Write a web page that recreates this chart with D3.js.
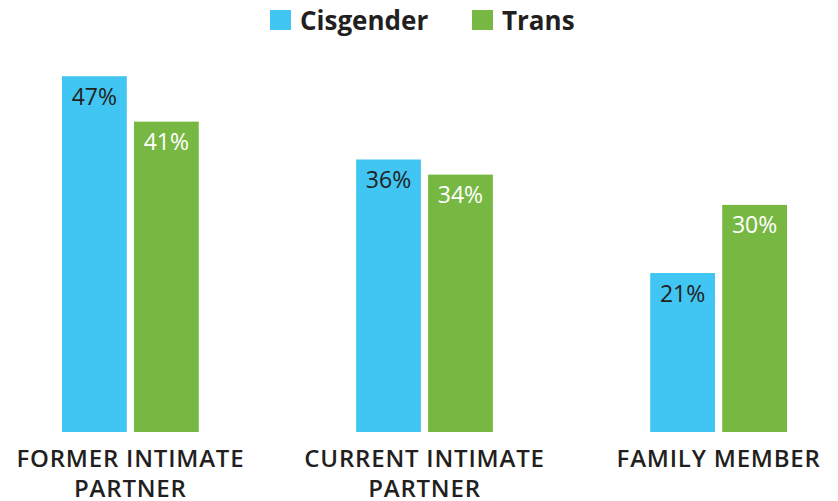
<!DOCTYPE html>
<html>
<head>
<meta charset="utf-8">
<script src="https://cdn.jsdelivr.net/npm/d3@7"></script>
<style>
  html, body { margin: 0; padding: 0; background: #fff; }
  text { font-family: "Open Sans", sans-serif; }
</style>
</head>
<body>
<svg id="chart" width="838" height="501"></svg>
<script>
const categories = ["FORMER INTIMATE PARTNER", "CURRENT INTIMATE PARTNER", "FAMILY MEMBER"];
const categoryLines = [["FORMER INTIMATE", "PARTNER"], ["CURRENT INTIMATE", "PARTNER"], ["FAMILY MEMBER"]];
const seriesNames = ["Cisgender", "Trans"];
const cisgender = [47, 36, 21];
const trans = [41, 34, 30];
const colors = ["#41C5F2", "#77B843"];
const labelColors = ["#231F20", "#FFFFFF"];

const svg = d3.select("#chart");
const baseline = 432;
const x = d3.scaleBand().domain(categories).range([62, 787]).paddingInner(0.535).paddingOuter(0);
const xs = d3.scaleBand().domain(seriesNames).range([0, x.bandwidth()]).paddingInner(0.1);
const y = d3.scaleLinear().domain([0, 50]).range([baseline, baseline - 7.57 * 50]);

const data = categories.map((c, i) => ({cat: c, vals: [cisgender[i], trans[i]]}));

const groups = svg.selectAll("g.grp").data(data).join("g")
  .attr("class", "grp")
  .attr("transform", d => `translate(${x(d.cat)},0)`);

groups.selectAll("rect").data(d => d.vals.map((v, j) => ({s: seriesNames[j], v, j})))
  .join("rect")
  .attr("x", d => xs(d.s))
  .attr("y", d => y(d.v))
  .attr("width", xs.bandwidth())
  .attr("height", d => baseline - y(d.v))
  .attr("fill", d => colors[d.j]);

groups.selectAll("text.val").data(d => d.vals.map((v, j) => ({s: seriesNames[j], v, j})))
  .join("text")
  .attr("class", "val")
  .attr("x", d => xs(d.s) + xs.bandwidth() / 2)
  .attr("y", d => y(d.v) + 28.5)
  .attr("text-anchor", "middle")
  .attr("font-size", 23)
  .attr("fill", d => labelColors[d.j])
  .text(d => d.v + "%");

// category labels
groups.each(function(d, i) {
  const g = d3.select(this);
  const t = g.append("text")
    .attr("x", x.bandwidth() / 2)
    .attr("text-anchor", "middle")
    .attr("font-size", 24)
    .attr("font-weight", 600)
    .attr("letter-spacing", 0.8)
    .attr("fill", "#231F20");
  categoryLines[i].forEach((line, k) => {
    t.append("tspan").attr("x", x.bandwidth() / 2).attr("y", 466.5 + k * 30).text(line);
  });
});

// legend
const legend = svg.append("g");
const legendX = [270, 472];
seriesNames.forEach((s, j) => {
  legend.append("rect").attr("x", legendX[j]).attr("y", 10).attr("width", 21).attr("height", 20).attr("fill", colors[j]);
  legend.append("text").attr("x", legendX[j] + 30).attr("y", 30)
    .attr("font-size", 26).attr("font-weight", 700).attr("fill", "#231F20").text(s);
});
</script>
</body>
</html>
